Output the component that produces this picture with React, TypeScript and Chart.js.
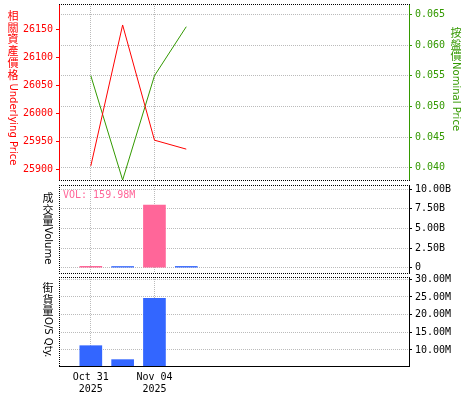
import React, { useEffect, useRef } from "react";
import { Chart, registerables } from "chart.js";
Chart.register(...registerables);

// ---------- data ----------
const dates = ["Oct 31 2025", "Nov 03 2025", "Nov 04 2025", "Nov 05 2025"];
const underlyingPrice = [25906, 26158, 25952, 25936];
const nominalPrice = [0.055, 0.038, 0.055, 0.063];
const volume = [0.17e9, 0.15e9, 8.0e9, 159.98e6];
const volumeUp = [true, false, true, false];
const osQty = [11.2e6, 7.25e6, 24.6e6, null];
const xTickIndices = [0, 2];
const underlyingTicks = [25900, 25950, 26000, 26050, 26100, 26150];
const nominalTicks = [0.04, 0.045, 0.05, 0.055, 0.06, 0.065];
const volumeTicks = [0, 2.5e9, 5e9, 7.5e9, 10e9];
const osTicks = [10e6, 15e6, 20e6, 25e6, 30e6];

const titleUnderlying = "相關資產價格 Underlying Price";
const titleNominal = "按盤價Nominal Price";
const titleVolume = "成交量Volume";
const titleOS = "街貨量O/S Qty.";

// ---------- styles ----------
const RED = "#FF0000";
const GREEN = "#339900";
const PINK = "#FF6699";
const BLUE = "#3366FF";
const GRID = "#BBBBBB";
const MONO = '"DejaVu Sans Mono", monospace';
const tickFont = { family: MONO, size: 10 };

const fix = (w?: number, h?: number) => (s: any) => {
  if (w !== undefined) s.width = w;
  if (h !== undefined) s.height = h;
  s.paddingTop = 0;
  s.paddingBottom = 0;
  s.paddingLeft = 0;
  s.paddingRight = 0;
};

const setTicks = (vals: number[]) => (s: any) => {
  s.ticks = vals.map((v) => ({ value: v }));
};

function hDots(ctx: CanvasRenderingContext2D, x1: number, x2: number, y: number) {
  ctx.save();
  ctx.strokeStyle = "#000";
  ctx.lineWidth = 1;
  ctx.setLineDash([1, 1]);
  ctx.beginPath();
  ctx.moveTo(x1, y + 0.5);
  ctx.lineTo(x2, y + 0.5);
  ctx.stroke();
  ctx.restore();
}
function vDots(ctx: CanvasRenderingContext2D, x: number, y1: number, y2: number) {
  ctx.save();
  ctx.strokeStyle = "#000";
  ctx.lineWidth = 1;
  ctx.setLineDash([1, 1]);
  ctx.beginPath();
  ctx.moveTo(x + 0.5, y1);
  ctx.lineTo(x + 0.5, y2);
  ctx.stroke();
  ctx.restore();
}

function verticalTitle(ctx: CanvasRenderingContext2D, text: string, cx: number, yTop: number, color: string) {
  const runs: { cjk: boolean; s: string }[] = [];
  for (const ch of text) {
    const cjk = ch.charCodeAt(0) > 0x2e80;
    const last = runs[runs.length - 1];
    if (last && last.cjk === cjk) last.s += ch;
    else runs.push({ cjk, s: ch });
  }
  ctx.save();
  ctx.fillStyle = color;
  let y = yTop;
  for (const r of runs) {
    if (r.cjk) {
      ctx.font = '11px "Noto Sans CJK TC"';
      ctx.textAlign = "center";
      ctx.textBaseline = "middle";
      for (const ch of r.s) {
        ctx.fillText(ch, cx, y + 5.85);
        y += 11.7;
      }
    } else {
      ctx.font = '10px "DejaVu Sans"';
      const w = ctx.measureText(r.s).width;
      ctx.save();
      ctx.translate(cx, y);
      ctx.rotate(Math.PI / 2);
      ctx.textAlign = "left";
      ctx.textBaseline = "middle";
      ctx.fillText(r.s, 0, 0);
      ctx.restore();
      y += w;
    }
  }
  ctx.restore();
}

const xScaleHidden = {
  type: "linear" as const,
  min: -1,
  max: 10,
  offset: false,
  afterBuildTicks: setTicks(xTickIndices),
  afterFit: fix(undefined, 0),
  ticks: { display: false },
  grid: { color: GRID, drawTicks: false, offset: false },
  border: { display: false, dash: [1, 1] },
};

function topConfig(): any {
  return {
    type: "line",
    data: {
      datasets: [
        {
          data: underlyingPrice.map((v, i) => ({ x: i, y: v })),
          borderColor: RED,
          borderWidth: 1,
          pointRadius: 0,
          yAxisID: "y",
        },
        {
          data: nominalPrice.map((v, i) => ({ x: i, y: v })),
          borderColor: GREEN,
          borderWidth: 1,
          pointRadius: 0,
          yAxisID: "y1",
        },
      ],
    },
    options: {
      animation: false,
      responsive: false,
      layout: { padding: { top: 4, bottom: 220, left: 0, right: 0 } },
      plugins: { legend: { display: false }, tooltip: { enabled: false } },
      scales: {
        x: xScaleHidden,
        y: {
          position: "left",
          min: 25880.8,
          max: 26195.5,
          afterBuildTicks: setTicks(underlyingTicks),
          afterFit: fix(59),
          ticks: { color: RED, font: tickFont, padding: 3, callback: (v: number) => String(v) },
          grid: { drawOnChartArea: false, tickColor: RED, tickLength: 3 },
          border: { color: RED },
        },
        y1: {
          position: "right",
          min: 0.038,
          max: 0.0667,
          afterBuildTicks: setTicks(nominalTicks),
          afterFit: fix(66),
          ticks: { color: GREEN, font: tickFont, padding: 3, callback: (v: number) => v.toFixed(3) },
          grid: { color: GRID, tickColor: GREEN, tickLength: 3 },
          border: { color: GREEN, dash: [1, 1] },
        },
      },
    },
    plugins: [
      {
        id: "decor1",
        afterDraw(chart: any) {
          const { ctx, chartArea: a } = chart;
          hDots(ctx, a.left, a.right + 1, a.top);
          hDots(ctx, a.left, a.right + 1, a.bottom);
          verticalTitle(ctx, titleUnderlying, 13, 10, RED);
          verticalTitle(ctx, titleNominal, 456, 27, GREEN);
        },
      },
    ],
  };
}

function fmtVol(v: number) {
  if (v === 0) return "0";
  if (v >= 1e9) return (v / 1e9).toFixed(2) + "B";
  return (v / 1e6).toFixed(2) + "M";
}

function midConfig(): any {
  return {
    type: "bar",
    data: {
      datasets: [
        {
          data: volume.map((v, i) => ({ x: i, y: v })),
          backgroundColor: volumeUp.map((u) => (u ? PINK : BLUE)),
          barThickness: 22,
        },
      ],
    },
    options: {
      animation: false,
      responsive: false,
      layout: { padding: { top: 185, bottom: 127, left: 59, right: 0 } },
      plugins: { legend: { display: false }, tooltip: { enabled: false } },
      scales: {
        x: xScaleHidden,
        y: {
          position: "right",
          min: -0.68e9,
          max: 10.55e9,
          afterBuildTicks: setTicks(volumeTicks),
          afterFit: fix(66),
          ticks: { color: "#000", font: tickFont, padding: 3, callback: (v: number) => fmtVol(v) },
          grid: { color: GRID, tickColor: "#000", tickLength: 3 },
          border: { color: "#000", dash: [1, 1] },
        },
      },
    },
    plugins: [
      {
        id: "decor2",
        afterDraw(chart: any) {
          const { ctx, chartArea: a } = chart;
          hDots(ctx, a.left, a.right + 1, a.top);
          hDots(ctx, a.left, a.right + 1, a.bottom);
          vDots(ctx, a.left, a.top, a.bottom);
          verticalTitle(ctx, titleVolume, 48, 192, "#000");
          ctx.save();
          ctx.font = "10px " + MONO;
          ctx.fillStyle = PINK;
          ctx.textAlign = "left";
          ctx.textBaseline = "middle";
          ctx.fillText("VOL: " + fmtVol(volume[volume.length - 1]), a.left + 4, a.top + 10);
          ctx.restore();
        },
      },
    ],
  };
}

function botConfig(): any {
  return {
    type: "bar",
    data: {
      datasets: [
        {
          data: osQty.map((v, i) => ({ x: i, y: v })),
          backgroundColor: BLUE,
          barThickness: 22,
        },
      ],
    },
    options: {
      animation: false,
      responsive: false,
      layout: { padding: { top: 277, bottom: 0, left: 59, right: 0 } },
      plugins: { legend: { display: false }, tooltip: { enabled: false } },
      scales: {
        x: {
          type: "linear",
          min: -1,
          max: 10,
          offset: false,
          afterBuildTicks: setTicks(xTickIndices),
          afterFit: fix(undefined, 34),
          ticks: {
            color: "#000",
            font: tickFont,
            padding: 5,
            maxRotation: 0,
            autoSkip: false,
            callback: (v: number) => {
              const d = dates[v];
              return [d.slice(0, 6), d.slice(7)];
            },
          },
          grid: { color: GRID, drawTicks: false, offset: false },
          border: { color: "#000", dash: [1, 1] },
        },
        y: {
          position: "right",
          min: 5.45e6,
          max: 30.65e6,
          afterBuildTicks: setTicks(osTicks),
          afterFit: fix(66),
          ticks: { color: "#000", font: tickFont, padding: 3, callback: (v: number) => fmtVol(v) },
          grid: { color: GRID, tickColor: "#000", tickLength: 3 },
          border: { color: "#000", dash: [1, 1] },
        },
      },
    },
    plugins: [
      {
        id: "decor3",
        afterDraw(chart: any) {
          const { ctx, chartArea: a } = chart;
          hDots(ctx, a.left, a.right + 1, a.top);
          vDots(ctx, a.left, a.top, a.bottom);
          verticalTitle(ctx, titleOS, 48, 282, "#000");
        },
      },
    ],
  };
}

const abs: React.CSSProperties = { position: "absolute", left: 0, top: 0, width: 475, height: 400 };

export default function App() {
  const r1 = useRef<HTMLCanvasElement>(null);
  const r2 = useRef<HTMLCanvasElement>(null);
  const r3 = useRef<HTMLCanvasElement>(null);
  useEffect(() => {
    const charts = [
      new Chart(r1.current!, topConfig()),
      new Chart(r2.current!, midConfig()),
      new Chart(r3.current!, botConfig()),
    ];
    return () => charts.forEach((c) => c.destroy());
  }, []);
  return (
    <div style={{ position: "fixed", left: 0, top: 0, width: 475, height: 400, background: "#fff" }}>
      <canvas ref={r1} width={475} height={400} style={abs} />
      <canvas ref={r2} width={475} height={400} style={abs} />
      <canvas ref={r3} width={475} height={400} style={abs} />
    </div>
  );
}
